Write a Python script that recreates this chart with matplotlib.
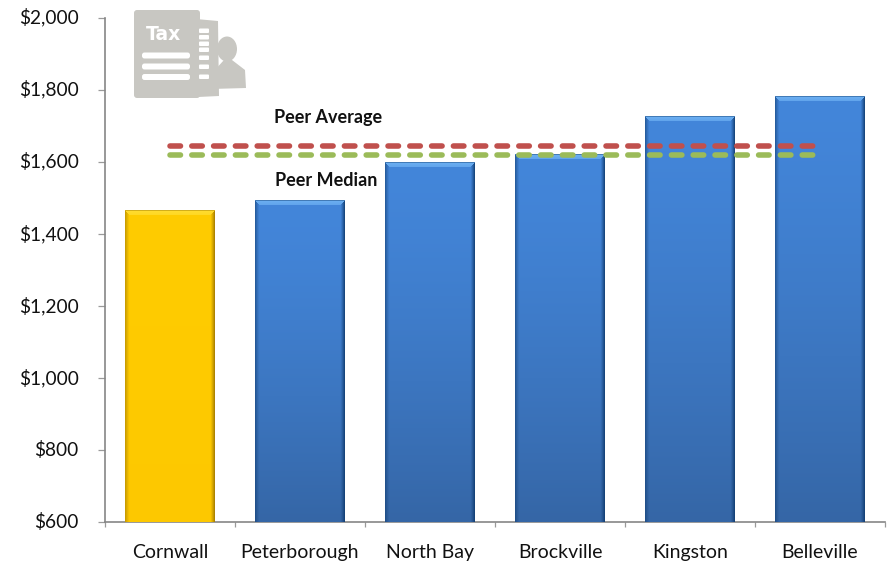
import numpy as np
import matplotlib
matplotlib.use("Agg")
import matplotlib.pyplot as plt
from matplotlib.patches import FancyBboxPatch, Polygon, Ellipse
from matplotlib.transforms import IdentityTransform, ScaledTranslation

categories = ["Cornwall", "Peterborough", "North Bay", "Brockville", "Kingston", "Belleville"]
values = [1466, 1494, 1599, 1621, 1727, 1782]
peer_average = 1643
peer_median = 1618
yticks = [600, 800, 1000, 1200, 1400, 1600, 1800, 2000]

W, H = 888, 562
plt.rcParams['font.family'] = ['Lato', 'DejaVu Sans']
plt.rcParams['lines.scale_dashes'] = False
fig = plt.figure(figsize=(W/100, H/100), dpi=100)
L, R, T, B = 105, 885, 17.5, 521.7
ax = fig.add_axes([L/W, 1-B/H, (R-L)/W, (B-T)/H])
for s in ('top', 'right'):
    ax.spines[s].set_visible(False)
for s in ('left', 'bottom'):
    ax.spines[s].set_color('#868686')
    ax.spines[s].set_linewidth(1.2)
ax.set_yticks(yticks)
ax.set_yticklabels([f"${v:,}" for v in yticks], fontsize=13.8, color='#111111')
ax.set_xticks(np.arange(-0.5, 6, 1))
ax.set_xticklabels([])
ax.tick_params(axis='y', length=5.0, width=0.9, color='#9a9a9a', pad=14)
ax.tick_params(axis='x', length=3.5, width=0.9, color='#9a9a9a')
shift = ScaledTranslation(0, 1.5/100, fig.dpi_scale_trans)
for lab in ax.get_yticklabels():
    lab.set_transform(lab.get_transform() + shift)
for i, c in enumerate(categories):
    ax.annotate(c, (i, 600), xytext=(0, -31), textcoords='offset pixels', ha='center', va='center',
                fontsize=14, color='#111111', annotation_clip=False)

def hex2(c):
    return np.array(matplotlib.colors.to_rgb(c))

def bar_image(h, w, top, bottom, edge, hi):
    t = (np.linspace(0, 1, h)**1.4)[:, None, None]
    img = (1-t)*top + t*bottom
    img = np.repeat(img, w, axis=1)
    side = 4
    for k in range(side):
        a = (1 - k/side)**1.2
        img[:, k] = img[:, k]*(1-a*0.55) + edge*a*0.55
        img[:, w-1-k] = img[:, w-1-k]*(1-a*0.85) + edge*a*0.85
    bev = 5
    for k in range(bev):
        x0 = k; x1 = w - k
        img[k, x0:x1] = hi*(1-k/bev*0.3) + top*(k/bev*0.3)
    img[0, :] = img[0, :]*0.55 + edge*0.45
    return img

bars = ax.bar(range(6), values, width=0.685, color='#3f7fd5', linewidth=0, zorder=2)
for i, (b, v) in enumerate(zip(bars, values)):
    x0 = i - 0.3425; x1 = i + 0.3425
    py = int(round((v-600)*(B-T)/1400)); px = 89
    if i == 0:
        img = bar_image(py, px, hex2('#ffcc00'), hex2('#fdc800'), hex2('#a07800'), hex2('#ffdc30'))
    else:
        img = bar_image(py, px, hex2('#4386da'), hex2('#3566a6'), hex2('#103c70'), hex2('#6cb0f2'))
    ax.imshow(img, extent=[x0, x1, 600, v], aspect='auto', zorder=3, interpolation='bilinear')
ax.set_xlim(-0.5, 5.5)
ax.set_ylim(600, 2000)

on = 10.5*0.72; off = 11.3*0.72
ax.plot([0, 5], [peer_average]*2, color='#c0504d', lw=4, dashes=(on, off), dash_capstyle='round', zorder=5)
ax.plot([0, 5], [peer_median]*2, color='#9bbb59', lw=4, dashes=(on, off), dash_capstyle='round', zorder=5)

fig.text(328/W, 1-118/H, "Peer Average", ha='center', va='center', fontsize=13, fontweight='bold', color='#111111')
fig.text(326.5/W, 1-180/H, "Peer Median", ha='center', va='center', fontsize=13, fontweight='bold', color='#111111')

# decorative tax icon, placed in figure pixels
ic = '#c8c7c2'
id_t = IdentityTransform()
def rrect(x0, y0, x1, y1, col=ic, r=3):
    fig.add_artist(FancyBboxPatch((x0+r, H-y1+r), x1-x0-2*r, y1-y0-2*r,
                   boxstyle=f"round,pad={r},rounding_size={r}", fc=col, ec='none', transform=id_t, zorder=10))
fig.add_artist(Polygon([(196, H-19), (218, H-21), (219, H-96), (198, H-97)], closed=True, fc=ic, ec='none', transform=id_t, zorder=10))
fig.add_artist(Ellipse((227, H-49), 20, 25, fc=ic, ec='none', transform=id_t, zorder=10))
fig.add_artist(Polygon([(211, H-89), (214, H-71), (224, H-60), (232, H-60), (245, H-70), (246, H-88)], closed=True, fc=ic, ec='none', transform=id_t, zorder=10))
rrect(134, 10, 200, 98)
for y in (31, 37.5, 44, 50, 58, 67, 77):
    rrect(199, y-2.5, 209, y+2, col='white', r=1)
for y in (55.5, 66.5, 77):
    rrect(142, y-3, 190, y+3, col='white', r=2.5)
fig.text(146/W, 1-34/H, "Tax", fontsize=13.5, fontweight='bold', color='white', ha='left', va='center', zorder=11,
         family=['DejaVu Sans'])

fig.savefig("out.png", dpi=100)
